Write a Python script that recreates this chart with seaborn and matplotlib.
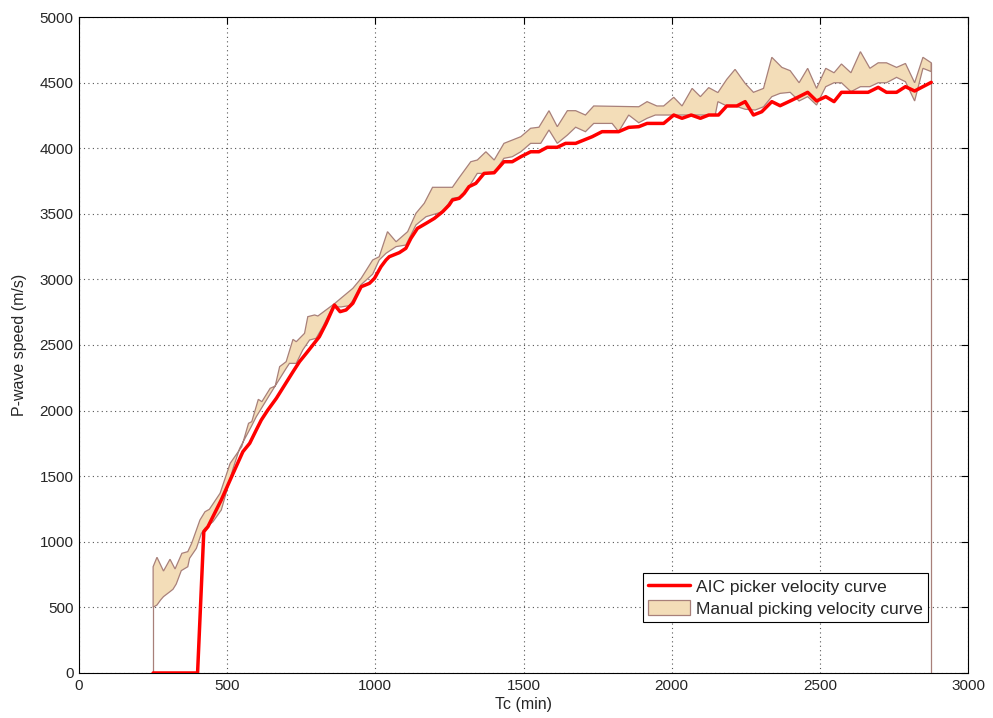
import matplotlib
matplotlib.use("Agg")
import matplotlib.pyplot as plt
import seaborn as sns
import pandas as pd
from matplotlib.patches import Patch
from matplotlib.lines import Line2D

# ---------------- data ----------------
aic_time = [250, 400, 421, 435, 480, 520, 553, 576, 598, 615, 637, 666, 694, 722, 744, 767, 789,
            811, 834, 862, 881, 901, 924, 952, 980, 997, 1019, 1036, 1047, 1081, 1103, 1120, 1142,
            1171, 1199, 1227, 1249, 1260, 1283, 1300, 1316, 1339, 1367, 1401, 1434, 1462, 1491,
            1524, 1552, 1580, 1614, 1642, 1676, 1732, 1765, 1821, 1855, 1889, 1917, 1973, 2007,
            2035, 2066, 2097, 2125, 2158, 2186, 2220, 2248, 2276, 2304, 2338, 2366, 2400, 2430,
            2459, 2489, 2520, 2548, 2573, 2663, 2697, 2725, 2759, 2789, 2820, 2848, 2876]
aic_speed = [0, 0, 1077, 1115, 1319, 1522, 1687, 1751, 1852, 1928, 2004, 2094, 2195, 2296, 2373,
             2437, 2500, 2563, 2665, 2805, 2754, 2767, 2818, 2944, 2970, 3008, 3097, 3148, 3173,
             3204, 3237, 3313, 3389, 3427, 3465, 3516, 3567, 3605, 3618, 3656, 3707, 3732, 3808,
             3813, 3897, 3897, 3935, 3973, 3973, 4007, 4007, 4037, 4037, 4088, 4126, 4126, 4159,
             4164, 4189, 4189, 4253, 4228, 4253, 4228, 4253, 4253, 4322, 4322, 4355, 4253, 4278,
             4355, 4324, 4360, 4393, 4426, 4360, 4393, 4355, 4426, 4426, 4464, 4426, 4426, 4469,
             4436, 4469, 4502]

upper_time = [250, 263, 285, 307, 324, 347, 367, 380, 408, 425, 440, 476, 510, 549, 572, 583, 605,
              617, 645, 662, 677, 699, 722, 733, 761, 772, 795, 806, 862, 890, 924, 952, 991, 1013,
              1041, 1070, 1109, 1137, 1165, 1193, 1227, 1260, 1280, 1322, 1344, 1373, 1401, 1434,
              1491, 1524, 1552, 1586, 1614, 1648, 1676, 1709, 1737, 1889, 1917, 1950, 1973, 2007,
              2035, 2069, 2097, 2125, 2156, 2186, 2214, 2248, 2276, 2310, 2338, 2372, 2400, 2430,
              2459, 2489, 2520, 2548, 2573, 2605, 2637, 2669, 2697, 2725, 2759, 2789, 2820, 2848,
              2876]
upper_speed = [810, 882, 777, 867, 793, 912, 925, 988, 1166, 1229, 1248, 1370, 1598, 1725, 1903,
               1916, 2086, 2068, 2170, 2187, 2335, 2373, 2543, 2525, 2589, 2716, 2729, 2721, 2815,
               2868, 2932, 3008, 3148, 3173, 3364, 3287, 3364, 3504, 3580, 3702, 3702, 3702, 3767,
               3897, 3910, 3973, 3910, 4037, 4088, 4152, 4160, 4286, 4164, 4286, 4286, 4253, 4322,
               4316, 4355, 4322, 4322, 4388, 4322, 4456, 4393, 4462, 4424, 4525, 4601, 4494, 4426,
               4456, 4693, 4616, 4591, 4499, 4609, 4456, 4609, 4575, 4642, 4575, 4736, 4609, 4651,
               4651, 4616, 4646, 4499, 4693, 4651]

lower_time = [250, 263, 275, 285, 307, 317, 328, 345, 367, 373, 396, 413, 425, 452, 480, 520, 542,
              581, 598, 643, 699, 710, 733, 755, 778, 800, 823, 856, 884, 912, 924, 952, 991, 1013,
              1036, 1070, 1103, 1137, 1171, 1227, 1260, 1294, 1316, 1344, 1373, 1401, 1434, 1462,
              1491, 1524, 1558, 1586, 1614, 1648, 1676, 1709, 1737, 1799, 1821, 1855, 1889, 1917,
              1945, 2147, 2156, 2186, 2214, 2248, 2282, 2310, 2338, 2366, 2400, 2430, 2459, 2489,
              2520, 2548, 2573, 2605, 2637, 2669, 2697, 2725, 2759, 2789, 2820, 2848, 2876]
lower_speed = [501, 518, 556, 582, 620, 638, 678, 780, 810, 874, 950, 1065, 1103, 1153, 1242, 1560,
               1712, 1877, 1953, 2119, 2322, 2360, 2360, 2462, 2538, 2551, 2640, 2792, 2790, 2800,
               2840, 2960, 3040, 3148, 3199, 3250, 3262, 3415, 3478, 3516, 3618, 3631, 3707, 3808,
               3808, 3813, 3923, 3935, 3973, 4037, 4037, 4139, 4037, 4100, 4160, 4126, 4189, 4189,
               4126, 4253, 4194, 4228, 4253, 4253, 4355, 4322, 4322, 4297, 4291, 4316, 4393, 4418,
               4426, 4360, 4393, 4329, 4469, 4499, 4499, 4431, 4469, 4469, 4499, 4499, 4540, 4507,
               4360, 4609, 4584]

x_ticks = [0, 500, 1000, 1500, 2000, 2500, 3000]
y_ticks = [0, 500, 1000, 1500, 2000, 2500, 3000, 3500, 4000, 4500, 5000]

# ---------------- style ----------------
sns.set_style("white")
plt.rcParams['font.family'] = ['Liberation Sans', 'DejaVu Sans']
plt.rcParams['xtick.direction'] = 'in'
plt.rcParams['ytick.direction'] = 'in'

fill_color = '#F3DDB8'
edge_color = '#A8807A'

fig = plt.figure(figsize=(9.93, 7.18), dpi=100)
ax = fig.add_axes([0.0796, 0.0627, 0.8952, 0.9136])

# manual picking band (polygon)
poly_x = list(upper_time) + list(reversed(lower_time))
poly_y = list(upper_speed) + list(reversed(lower_speed))
ax.fill(poly_x, poly_y, facecolor=fill_color, edgecolor=edge_color, linewidth=0.9, zorder=2)
# vertical closing edges down to zero
ax.plot([lower_time[0], lower_time[0]], [0, lower_speed[0]], color=edge_color, lw=0.9, zorder=2)
ax.plot([upper_time[-1], upper_time[-1]], [0, upper_speed[-1]], color=edge_color, lw=0.9, zorder=2)

# AIC picker curve
df = pd.DataFrame({"Tc": aic_time, "speed": aic_speed})
sns.lineplot(data=df, x="Tc", y="speed", color='red', linewidth=2.5,
             estimator=None, sort=False, ax=ax, zorder=3)

ax.set_xlim(0, 3000)
ax.set_ylim(0, 5000)
ax.set_xticks(x_ticks)
ax.set_yticks(y_ticks)
ax.tick_params(axis='both', which='both', labelsize=11, length=5, width=0.8,
               top=True, right=True, color='black', pad=4)
ax.grid(True, linestyle=(0, (1, 3)), color='#555555', linewidth=0.8)
ax.set_axisbelow(True)
for s in ax.spines.values():
    s.set_color('black')
    s.set_linewidth(0.8)

ax.set_xlabel('Tc (min)', fontsize=11.5, labelpad=3)
ax.set_ylabel('P-wave speed (m/s)', fontsize=11.5, labelpad=9)

handles = [Line2D([0], [0], color='red', lw=2.5),
           Patch(facecolor=fill_color, edgecolor=edge_color, linewidth=0.9)]
leg = ax.legend(handles, ['AIC picker velocity curve', 'Manual picking velocity curve'],
                loc='lower right', bbox_to_anchor=(0.955, 0.078), borderaxespad=0,
                fontsize=12.5, frameon=True, fancybox=False, edgecolor='black', framealpha=1,
                handlelength=2.4, handleheight=1.0, handletextpad=0.35, borderpad=0.3,
                labelspacing=0.3)
leg.get_frame().set_linewidth(0.8)

fig.savefig('out.png', dpi=100)
